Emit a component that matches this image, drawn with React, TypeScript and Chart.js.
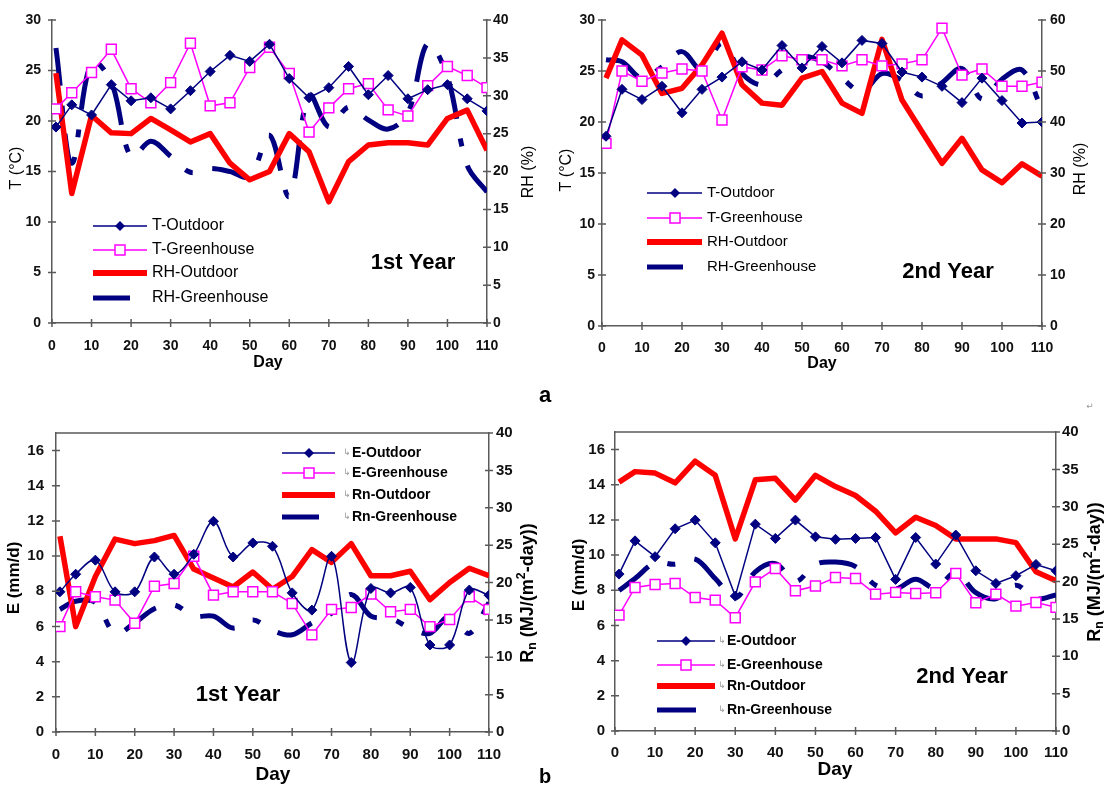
import React, { useEffect, useRef } from "react";
import { Chart, registerables } from "chart.js";

Chart.register(...registerables);

const FONT = '"Liberation Sans", Arial, Helvetica, sans-serif';
const NAVY = "#000080";
const MAGENTA = "#FF00FF";
const RED = "#FF0000";
const AXIS = "#5a5a5a";
const DASH = [38, 20, 8, 20];

// ---------------- data ----------------
const days = [1, 5, 10, 15, 20, 25, 30, 35, 40, 45, 50, 55, 60, 65, 70, 75, 80, 85, 90, 95, 100, 105, 110];

const topNames = ["T-Outdoor", "T-Greenhouse", "RH-Outdoor", "RH-Greenhouse"];
const bottomNames = ["E-Outdoor", "E-Greenhouse", "Rn-Outdoor", "Rn-Greenhouse"];

// 1st year, temperature (°C) and relative humidity (%)
const tOutdoor1 = [19.4, 21.6, 20.6, 23.6, 22.0, 22.3, 21.2, 23.0, 24.9, 26.5, 25.9, 27.6, 24.2, 22.3, 23.3, 25.4, 22.6, 24.5, 22.2, 23.1, 23.6, 22.2, 21.0];
const tGreenhouse1 = [21.2, 22.8, 24.8, 27.1, 23.2, 21.8, 23.8, 27.7, 21.5, 21.8, 25.3, 27.3, 24.7, 18.9, 21.3, 23.2, 23.7, 21.1, 20.5, 23.5, 25.4, 24.5, 23.3];
const rhOutdoor1 = [33.0, 17.1, 27.4, 25.1, 25.0, 27.0, 25.5, 23.9, 25.0, 21.1, 18.9, 20.0, 25.0, 22.6, 16.0, 21.3, 23.5, 23.8, 23.8, 23.5, 27.0, 28.1, 22.8];
const rhGreenhouse1 = [36.3, 21.1, 34.5, 31.8, 21.9, 24.0, 22.0, 19.9, 20.4, 20.0, 19.3, 24.8, 16.7, 30.1, 25.9, 28.5, 26.8, 25.6, 27.7, 36.9, 32.5, 20.8, 17.3];

// 2nd year, temperature (°C) and relative humidity (%)
const tOutdoor2 = [18.6, 23.2, 22.2, 23.5, 20.9, 23.2, 24.4, 25.9, 25.1, 27.5, 25.3, 27.4, 25.8, 28.0, 27.7, 24.9, 24.4, 23.5, 21.9, 24.3, 22.1, 19.9, 20.0];
const tGreenhouse2 = [17.9, 25.0, 24.0, 24.8, 25.2, 25.0, 20.2, 25.4, 25.1, 26.5, 26.1, 26.1, 25.5, 26.1, 25.5, 25.7, 26.1, 29.2, 24.6, 25.2, 23.5, 23.5, 23.9];
const rhOutdoor2 = [48.6, 56.1, 53.1, 45.6, 46.6, 51.2, 57.4, 47.3, 43.7, 43.3, 48.6, 49.9, 43.7, 41.7, 56.2, 44.3, 38.1, 31.9, 36.8, 30.6, 28.1, 31.8, 29.4];
const rhGreenhouse2 = [52.2, 51.8, 48.6, 50.8, 53.8, 50.2, 55.4, 49.5, 47.3, 50.2, 52.8, 51.8, 48.6, 46.0, 49.5, 48.2, 45.1, 47.7, 50.5, 44.5, 48.4, 50.2, 42.5];

// 1st year, evaporation (mm/d) and net radiation (MJ/(m2-day))
const eOutdoor1 = [7.97, 8.97, 9.77, 7.97, 7.97, 9.95, 8.97, 10.1, 11.98, 9.95, 10.75, 10.56, 7.91, 6.93, 9.99, 3.95, 8.16, 7.91, 8.22, 4.95, 4.95, 8.07, 7.78];
const eGreenhouse1 = [5.99, 7.97, 7.69, 7.5, 6.18, 8.29, 8.44, 9.99, 7.78, 7.97, 7.97, 7.97, 7.31, 5.52, 6.97, 7.08, 7.84, 6.84, 6.97, 5.99, 6.4, 7.69, 6.97];
const rnOutdoor1 = [26.2, 14.1, 20.8, 25.8, 25.2, 25.6, 26.3, 21.8, 20.6, 19.4, 21.4, 19.1, 20.8, 24.4, 22.7, 25.2, 20.9, 20.9, 21.5, 17.7, 20.0, 21.9, 20.9];
const rnGreenhouse1 = [16.4, 17.5, 17.3, 13.2, 14.6, 16.5, 17.0, 15.5, 15.5, 13.9, 15.0, 13.6, 13.0, 14.6, 15.9, 18.4, 15.5, 15.2, 13.9, 13.2, 15.5, 13.2, 17.3];

// 2nd year, evaporation (mm/d) and net radiation (MJ/(m2-day))
const eOutdoor2 = [8.92, 10.81, 9.91, 11.5, 11.99, 10.7, 7.67, 11.76, 10.95, 11.99, 11.04, 10.9, 10.95, 11.0, 8.62, 11.0, 9.49, 11.14, 9.11, 8.39, 8.83, 9.47, 9.11];
const eGreenhouse2 = [6.59, 8.16, 8.33, 8.39, 7.59, 7.44, 6.44, 8.48, 9.24, 7.97, 8.24, 8.73, 8.67, 7.78, 7.88, 7.82, 7.86, 8.96, 7.29, 7.78, 7.1, 7.31, 7.03];
const rnOutdoor2 = [33.3, 34.7, 34.5, 33.2, 36.1, 34.2, 25.7, 33.6, 33.8, 30.9, 34.2, 32.7, 31.5, 29.4, 26.5, 28.6, 27.5, 25.7, 25.7, 25.7, 25.2, 21.3, 20.1];
const rnGreenhouse2 = [18.8, 20.4, 22.5, 22.3, 23.0, 20.4, 17.8, 21.3, 22.4, 20.0, 22.3, 22.6, 22.0, 19.5, 19.0, 20.3, 19.1, 21.2, 18.5, 17.7, 19.5, 17.7, 18.2];

// axis ranges
const dayRange = { min: 0, max: 110, step: 10 };
const tempRange = { min: 0, max: 30, step: 5 };
const rh1Range = { min: 0, max: 40, step: 5 };
const rh2Range = { min: 0, max: 60, step: 10 };
const eRange = { min: 0, max: 17, step: 2 };
const rnRange = { min: 0, max: 40, step: 5 };

// ---------------- layout specs ----------------
type Seg = { t: string; scale?: number; dy?: number };
type TextItem = { text?: string; rich?: Seg[]; x: number; y: number; font: string; size?: number; weight?: string; rotate?: boolean; color?: string; align?: CanvasTextAlign };
type LegendSpec = { x0: number; x1: number; mx: number; tx: number; dashEnd: number; rows: number[]; font: string; arrowX?: number };
type Range = { min: number; max: number; step: number };

interface PanelSpec {
  plot: { l: number; r: number; t: number; b: number };
  names: string[];
  values: number[][];
  left: Range;
  right: Range;
  outdoorTension: number;
  tickSize: number;
  xPad: number;
  lPad: number;
  rPad: number;
  topBorder: boolean;
  legend: LegendSpec;
  texts: TextItem[];
}

const rnTitle = (x: number, y: number): TextItem => ({
  x,
  y,
  font: FONT,
  size: 18,
  weight: "bold",
  rotate: true,
  rich: [
    { t: "R" },
    { t: "n", scale: 0.68, dy: 0.28 },
    { t: " (MJ/(m" },
    { t: "2", scale: 0.68, dy: -0.38 },
    { t: "-day))" },
  ],
});

const panels: PanelSpec[] = [
  {
    plot: { l: 52, r: 487, t: 20, b: 323 },
    names: topNames,
    values: [tOutdoor1, tGreenhouse1, rhOutdoor1, rhGreenhouse1],
    left: tempRange,
    right: rh1Range,
    outdoorTension: 0,
    tickSize: 14,
    xPad: 15,
    lPad: 11,
    rPad: 6,
    topBorder: false,
    legend: { x0: 93, x1: 147, mx: 120, tx: 152, dashEnd: 130, rows: [226, 250, 273, 298], font: `16px ${FONT}` },
    texts: [
      { text: "T (°C)", x: 17, y: 168, font: FONT, size: 16, rotate: true },
      { text: "RH (%)", x: 529, y: 172, font: FONT, size: 16, rotate: true },
      { text: "Day", x: 268, y: 363, font: FONT, size: 16, weight: "bold" },
      { text: "1st Year", x: 413, y: 263, font: FONT, size: 22, weight: "bold" },
      { text: "a", x: 545, y: 396, font: FONT, size: 22, weight: "bold" },
    ],
  },
  {
    plot: { l: 602, r: 1042, t: 20, b: 326 },
    names: topNames,
    values: [tOutdoor2, tGreenhouse2, rhOutdoor2, rhGreenhouse2],
    left: tempRange,
    right: rh2Range,
    outdoorTension: 0,
    tickSize: 14,
    xPad: 14,
    lPad: 7,
    rPad: 8,
    topBorder: false,
    legend: { x0: 647, x1: 702, mx: 675, tx: 707, dashEnd: 683, rows: [193, 218, 242, 267], font: `15px ${FONT}` },
    texts: [
      { text: "T (°C)", x: 567, y: 170, font: FONT, size: 16, rotate: true },
      { text: "RH (%)", x: 1081, y: 169, font: FONT, size: 16, rotate: true },
      { text: "Day", x: 822, y: 364, font: FONT, size: 16, weight: "bold" },
      { text: "2nd Year", x: 948, y: 272, font: FONT, size: 22, weight: "bold" },
      { text: "\u21B5", x: 1090, y: 407, font: '"DejaVu Sans", sans-serif', size: 9, color: "#9a9a9a" },
    ],
  },
  {
    plot: { l: 56, r: 489, t: 433, b: 732 },
    names: bottomNames,
    values: [eOutdoor1, eGreenhouse1, rnOutdoor1, rnGreenhouse1],
    left: eRange,
    right: rnRange,
    outdoorTension: 0.35,
    tickSize: 15,
    xPad: 14,
    lPad: 12,
    rPad: 7,
    topBorder: true,
    legend: { x0: 282, x1: 335, mx: 309, tx: 352, dashEnd: 319, arrowX: 343, rows: [453, 473, 495, 517], font: `bold 14px ${FONT}` },
    texts: [
      { text: "E (mm/d)", x: 14, y: 578, font: FONT, size: 17, weight: "bold", rotate: true },
      rnTitle(528, 593),
      { text: "Day", x: 273, y: 775, font: FONT, size: 19, weight: "bold" },
      { text: "1st Year", x: 238, y: 695, font: FONT, size: 22, weight: "bold" },
      { text: "b", x: 545, y: 777, font: FONT, size: 20, weight: "bold" },
    ],
  },
  {
    plot: { l: 615, r: 1056, t: 432, b: 731 },
    names: bottomNames,
    values: [eOutdoor2, eGreenhouse2, rnOutdoor2, rnGreenhouse2],
    left: eRange,
    right: rnRange,
    outdoorTension: 0,
    tickSize: 15,
    xPad: 13,
    lPad: 10,
    rPad: 6,
    topBorder: true,
    legend: { x0: 657, x1: 715, mx: 686, tx: 727, dashEnd: 696, arrowX: 718, rows: [641, 665, 686, 710], font: `bold 14px ${FONT}` },
    texts: [
      { text: "E (mm/d)", x: 579, y: 575, font: FONT, size: 17, weight: "bold", rotate: true },
      rnTitle(1095, 572),
      { text: "Day", x: 835, y: 770, font: FONT, size: 19, weight: "bold" },
      { text: "2nd Year", x: 962, y: 677, font: FONT, size: 22, weight: "bold" },
    ],
  },
];

// ---------------- drawing helpers ----------------
function fontStr(weight: string | undefined, size: number, family: string) {
  return `${weight ? weight + " " : ""}${size}px ${family}`;
}

function drawText(ctx: CanvasRenderingContext2D, t: TextItem) {
  ctx.save();
  ctx.translate(t.x, t.y);
  if (t.rotate) ctx.rotate(-Math.PI / 2);
  ctx.fillStyle = t.color || "#000";
  ctx.textBaseline = "middle";
  const size = t.size || 14;
  if (t.rich) {
    let total = 0;
    const widths: number[] = [];
    for (const s of t.rich) {
      ctx.font = fontStr(t.weight, size * (s.scale || 1), t.font);
      const w = ctx.measureText(s.t).width;
      widths.push(w);
      total += w;
    }
    let x = -total / 2;
    ctx.textAlign = "left";
    t.rich.forEach((s, i) => {
      ctx.font = fontStr(t.weight, size * (s.scale || 1), t.font);
      ctx.fillText(s.t, x, (s.dy || 0) * size);
      x += widths[i];
    });
  } else {
    ctx.font = fontStr(t.weight, size, t.font);
    ctx.textAlign = t.align || "center";
    ctx.fillText(t.text || "", 0, 0);
  }
  ctx.restore();
}

function diamond(ctx: CanvasRenderingContext2D, x: number, y: number, r: number) {
  ctx.beginPath();
  ctx.moveTo(x - r, y);
  ctx.lineTo(x, y - r);
  ctx.lineTo(x + r, y);
  ctx.lineTo(x, y + r);
  ctx.closePath();
  ctx.fillStyle = NAVY;
  ctx.fill();
}

function drawLegend(ctx: CanvasRenderingContext2D, L: LegendSpec, names: string[]) {
  names.forEach((name, i) => {
    const y = L.rows[i];
    ctx.save();
    ctx.lineCap = "butt";
    ctx.beginPath();
    if (i === 0) {
      ctx.strokeStyle = NAVY;
      ctx.lineWidth = 1.5;
      ctx.moveTo(L.x0, y);
      ctx.lineTo(L.x1, y);
      ctx.stroke();
      diamond(ctx, L.mx, y, 5);
    } else if (i === 1) {
      ctx.strokeStyle = MAGENTA;
      ctx.lineWidth = 1.5;
      ctx.moveTo(L.x0, y);
      ctx.lineTo(L.x1, y);
      ctx.stroke();
      ctx.fillStyle = "#fff";
      ctx.fillRect(L.mx - 5, y - 5, 10, 10);
      ctx.strokeRect(L.mx - 5, y - 5, 10, 10);
    } else if (i === 2) {
      ctx.strokeStyle = RED;
      ctx.lineWidth = 6;
      ctx.moveTo(L.x0, y);
      ctx.lineTo(L.x1, y);
      ctx.stroke();
    } else {
      ctx.strokeStyle = NAVY;
      ctx.lineWidth = 5;
      ctx.moveTo(L.x0, y);
      ctx.lineTo(L.dashEnd, y);
      ctx.stroke();
    }
    ctx.restore();
    ctx.save();
    ctx.textBaseline = "middle";
    ctx.textAlign = "left";
    if (L.arrowX !== undefined) {
      ctx.fillStyle = "#9a9a9a";
      ctx.font = '9px "DejaVu Sans", sans-serif';
      ctx.fillText("\u21B3", L.arrowX, y);
    }
    ctx.fillStyle = "#000";
    ctx.font = L.font;
    ctx.fillText(name, L.tx, y);
    ctx.restore();
  });
}

function makeDecor(spec: PanelSpec) {
  return {
    id: "decor",
    afterDraw(chart: any) {
      const ctx: CanvasRenderingContext2D = chart.ctx;
      const a = chart.chartArea;
      ctx.save();
      ctx.strokeStyle = AXIS;
      ctx.lineWidth = 1.5;
      ctx.beginPath();
      const xs = chart.scales.x;
      for (const t of xs.ticks) {
        const p = xs.getPixelForValue(t.value);
        ctx.moveTo(p, a.bottom - 4);
        ctx.lineTo(p, a.bottom + 4);
      }
      const yl = chart.scales.yL;
      for (const t of yl.ticks) {
        const p = yl.getPixelForValue(t.value);
        ctx.moveTo(a.left - 4, p);
        ctx.lineTo(a.left + 4, p);
      }
      const yr = chart.scales.yR;
      for (const t of yr.ticks) {
        const p = yr.getPixelForValue(t.value);
        ctx.moveTo(a.right - 4, p);
        ctx.lineTo(a.right + 4, p);
      }
      if (spec.topBorder) {
        ctx.moveTo(a.left, a.top);
        ctx.lineTo(a.right, a.top);
      }
      ctx.stroke();
      ctx.restore();
      drawLegend(ctx, spec.legend, spec.names);
      for (const t of spec.texts) drawText(ctx, t);
    },
  };
}

function points(vals: number[]) {
  return days.map((d, i) => ({ x: d, y: vals[i] }));
}

function buildConfig(spec: PanelSpec): any {
  const [s0, s1, s2, s3] = spec.values;
  const tickFont = { family: FONT, size: spec.tickSize, weight: "bold" as const };
  const LBOX = 45;
  const RBOX = 40;
  const XBOX = 40;
  const datasets = [
    {
      label: spec.names[0],
      data: points(s0),
      yAxisID: "yL",
      borderColor: NAVY,
      backgroundColor: NAVY,
      borderWidth: 1.5,
      pointStyle: "rectRot",
      pointRadius: 5,
      pointBackgroundColor: NAVY,
      pointBorderColor: NAVY,
      pointBorderWidth: 1,
      tension: spec.outdoorTension,
    },
    {
      label: spec.names[1],
      data: points(s1),
      yAxisID: "yL",
      borderColor: MAGENTA,
      backgroundColor: "#fff",
      borderWidth: 1.5,
      pointStyle: "rect",
      pointRadius: 7,
      pointBackgroundColor: "#fff",
      pointBorderColor: MAGENTA,
      pointBorderWidth: 1.5,
      tension: 0,
    },
    {
      label: spec.names[2],
      data: points(s2),
      yAxisID: "yR",
      borderColor: RED,
      backgroundColor: RED,
      borderWidth: 5.5,
      pointRadius: 0,
      tension: 0,
      borderJoinStyle: "round",
    },
    {
      label: spec.names[3],
      data: points(s3),
      yAxisID: "yR",
      borderColor: NAVY,
      backgroundColor: NAVY,
      borderWidth: 5,
      borderDash: DASH,
      borderCapStyle: "butt",
      pointRadius: 0,
      tension: 0.35,
    },
  ];
  const border = { display: true, color: AXIS, width: 1.5 };
  const grid = { display: false, drawTicks: false };
  return {
    type: "line",
    data: { datasets },
    options: {
      responsive: false,
      animation: false,
      devicePixelRatio: 1,
      events: [],
      layout: {
        padding: {
          left: spec.plot.l - LBOX,
          right: 1104 - spec.plot.r - RBOX,
          top: spec.plot.t,
          bottom: 790 - spec.plot.b - XBOX,
        },
      },
      plugins: { legend: { display: false }, tooltip: { enabled: false }, title: { display: false } },
      scales: {
        x: {
          type: "linear",
          min: dayRange.min,
          max: dayRange.max,
          afterFit: (s: any) => {
            s.height = XBOX;
          },
          grid,
          border,
          ticks: { stepSize: dayRange.step, autoSkip: false, maxRotation: 0, padding: spec.xPad, color: "#111", font: tickFont },
        },
        yL: {
          type: "linear",
          position: "left",
          min: spec.left.min,
          max: spec.left.max,
          afterFit: (s: any) => {
            s.width = LBOX;
          },
          grid,
          border,
          ticks: { stepSize: spec.left.step, includeBounds: false, padding: spec.lPad, color: "#111", font: tickFont },
        },
        yR: {
          type: "linear",
          position: "right",
          min: spec.right.min,
          max: spec.right.max,
          afterFit: (s: any) => {
            s.width = RBOX;
          },
          grid,
          border,
          ticks: { stepSize: spec.right.step, includeBounds: false, padding: spec.rPad, color: "#111", font: tickFont },
        },
      },
    },
    plugins: [makeDecor(spec)],
  };
}

function PanelCanvas({ spec }: { spec: PanelSpec }) {
  const ref = useRef<HTMLCanvasElement | null>(null);
  useEffect(() => {
    if (!ref.current) return;
    const chart = new Chart(ref.current, buildConfig(spec));
    return () => chart.destroy();
  }, [spec]);
  return (
    <canvas
      ref={ref}
      width={1104}
      height={790}
      style={{ position: "absolute", left: 0, top: 0, width: 1104, height: 790 }}
    />
  );
}

export default function App() {
  return (
    <div style={{ position: "absolute", left: 0, top: 0, width: 1104, height: 790, background: "#fff", overflow: "hidden" }}>
      {panels.map((p, i) => (
        <PanelCanvas key={i} spec={p} />
      ))}
    </div>
  );
}
